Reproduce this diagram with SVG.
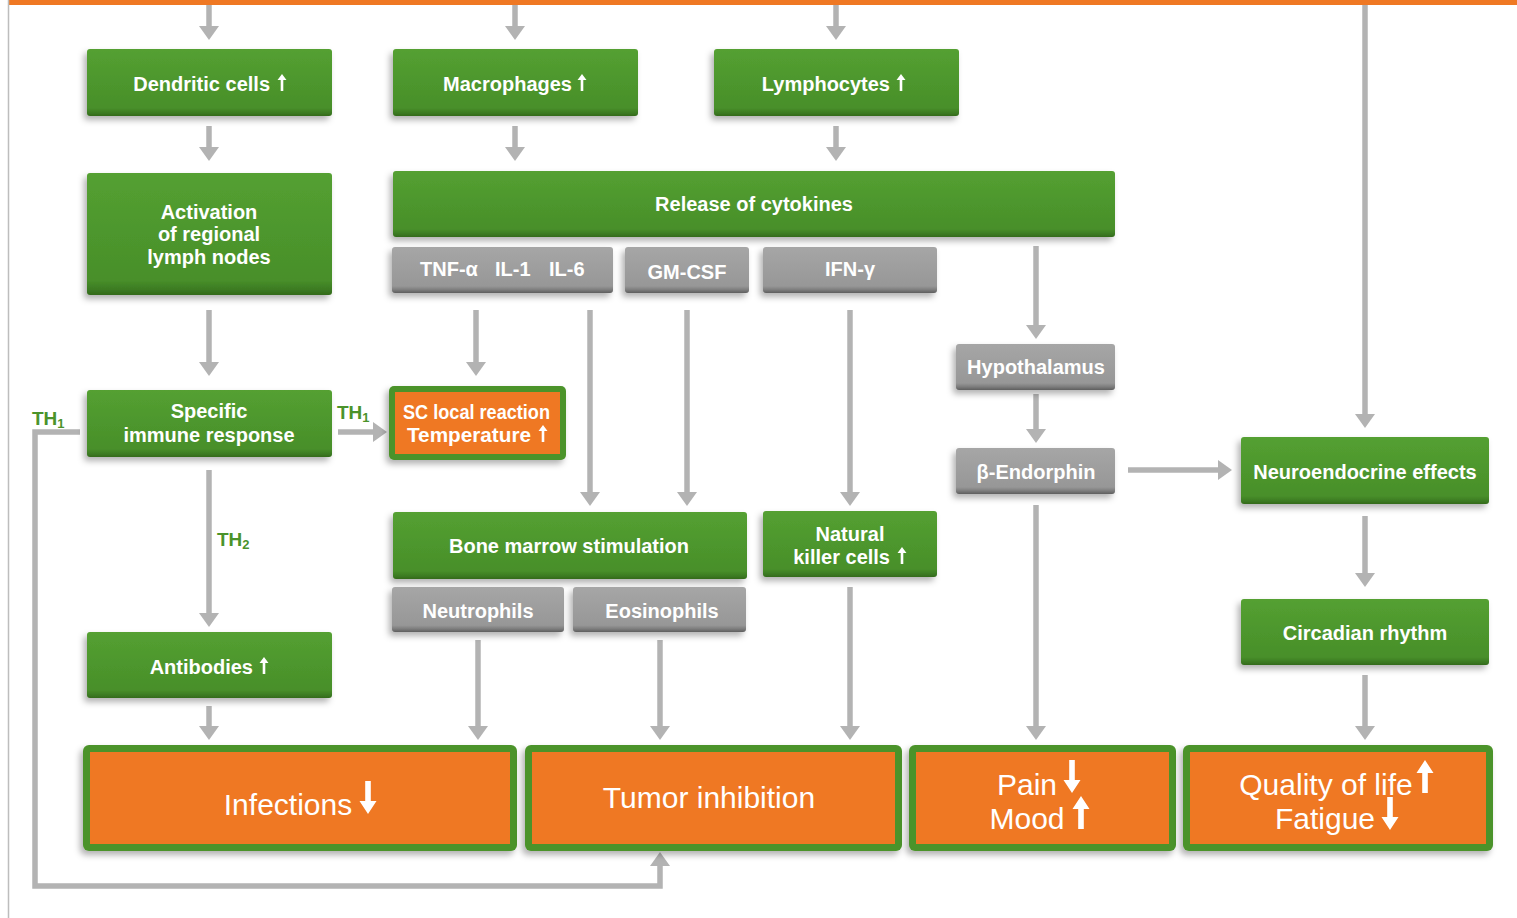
<svg xmlns="http://www.w3.org/2000/svg" xmlns:xlink="http://www.w3.org/1999/xlink" width="1517" height="918" viewBox="0 0 1517 918">
<defs>
<linearGradient id="gGreen" x1="0" y1="0" x2="0" y2="1">
<stop offset="0" stop-color="#54a031"/>
<stop offset="0.88" stop-color="#488f2a"/>
<stop offset="0.95" stop-color="#3d7c23"/>
<stop offset="1" stop-color="#336a1c"/>
</linearGradient>
<linearGradient id="gGray" x1="0" y1="0" x2="0" y2="1">
<stop offset="0" stop-color="#a6a6a6"/>
<stop offset="0.85" stop-color="#979797"/>
<stop offset="0.93" stop-color="#7d7d7d"/>
<stop offset="1" stop-color="#5e5e5e"/>
</linearGradient>
<filter id="sh" x="-10%" y="-20%" width="120%" height="150%">
<feDropShadow dx="-3" dy="4" stdDeviation="3" flood-color="#000" flood-opacity="0.3"/>
</filter>
<marker id="ah" markerUnits="userSpaceOnUse" viewBox="0 -10 14 20" refX="0" refY="0" markerWidth="14" markerHeight="20" orient="auto">
<path d="M0,-10 L14,0 L0,10 Z" fill="#b3b3b3"/>
</marker>
<path id="su" d="M0,0 L4.5,6 L1.3,6 L1.3,17 L-1.3,17 L-1.3,6 L-4.5,6 Z" fill="#fff"/>
<path id="bu" d="M0,0 L8.5,13 L2.8,13 L2.8,33 L-2.8,33 L-2.8,13 L-8.5,13 Z" fill="#fff"/>
<path id="bd" d="M0,33 L8.5,20 L2.8,20 L2.8,0 L-2.8,0 L-2.8,20 L-8.5,20 Z" fill="#fff"/>
</defs>
<style>
.g{fill:url(#gGreen);filter:url(#sh);}
.y{fill:url(#gGray);filter:url(#sh);}
.ob{fill:#4b932b;filter:url(#sh);}
.oi{fill:#ef7823;}
.t{font-family:"Liberation Sans",Arial,sans-serif;font-weight:bold;font-size:20px;fill:#fff;}
.c{text-anchor:middle;}
.e{text-anchor:end;}
.big{font-family:"Liberation Sans",Arial,sans-serif;font-size:30px;fill:#fff;text-anchor:middle;}
.th{font-family:"Liberation Sans",Arial,sans-serif;font-weight:bold;font-size:19px;fill:#4b932b;}
.cn{fill:none;stroke:#b3b3b3;stroke-width:5.5;marker-end:url(#ah);}
</style>
<rect x="0" y="0" width="1517" height="918" fill="#fff"/>
<rect x="8" y="0" width="1509" height="5" fill="#ef7823"/>
<line x1="8.5" y1="0" x2="8.5" y2="918" stroke="#bdbdbd" stroke-width="1.5"/>

<g id="connectors">
<path class="cn" d="M209,5 V26"/>
<path class="cn" d="M515,5 V26"/>
<path class="cn" d="M836,5 V26"/>
<path class="cn" d="M209,126 V147"/>
<path class="cn" d="M515,126 V147"/>
<path class="cn" d="M836,126 V147"/>
<path class="cn" d="M209,310 V362"/>
<path class="cn" d="M209,470 V613"/>
<path class="cn" d="M209,706 V726"/>
<path class="cn" d="M476,310 V362"/>
<path class="cn" d="M590,310 V492"/>
<path class="cn" d="M687,310 V492"/>
<path class="cn" d="M850,310 V492"/>
<path class="cn" d="M1036,246 V325"/>
<path class="cn" d="M1036,394 V429"/>
<path class="cn" d="M1036,505 V726"/>
<path class="cn" d="M1365,5 V414"/>
<path class="cn" d="M1365,516 V573"/>
<path class="cn" d="M1365,675 V726"/>
<path class="cn" d="M478,640 V726"/>
<path class="cn" d="M660,640 V726"/>
<path class="cn" d="M850,587 V726"/>
<path class="cn" d="M338,432 H373"/>
<path class="cn" d="M1128,470 H1218"/>
<path class="cn" d="M80,432 H35 V886 H660 V866"/>
</g>

<g id="n-dendritic">
<rect class="g" x="87" y="49" width="245" height="67" rx="3"/>
<text class="t e" x="270" y="91">Dendritic cells</text>
<use xlink:href="#su" x="282" y="74"/>
</g>
<g id="n-macrophages">
<rect class="g" x="393" y="49" width="245" height="67" rx="3"/>
<text class="t e" x="572" y="91">Macrophages</text>
<use xlink:href="#su" x="582" y="74"/>
</g>
<g id="n-lymphocytes">
<rect class="g" x="714" y="49" width="245" height="67" rx="3"/>
<text class="t e" x="890" y="91">Lymphocytes</text>
<use xlink:href="#su" x="901" y="74"/>
</g>
<g id="n-activation">
<rect class="g" x="87" y="173" width="245" height="122" rx="3"/>
<text class="t c" x="209" y="219">Activation</text>
<text class="t c" x="209" y="241">of regional</text>
<text class="t c" x="209" y="264">lymph nodes</text>
</g>
<g id="n-cytokines">
<rect class="g" x="393" y="171" width="722" height="66" rx="3"/>
<text class="t c" x="754" y="211">Release of cytokines</text>
</g>
<g id="n-tnf">
<rect class="y" x="392" y="247" width="221" height="46" rx="3"/>
<text class="t" x="420" y="276">TNF-α</text>
<text class="t" x="495" y="276">IL-1</text>
<text class="t" x="549" y="276">IL-6</text>
</g>
<g id="n-gmcsf">
<rect class="y" x="625" y="247" width="124" height="46" rx="3"/>
<text class="t c" x="687" y="279">GM-CSF</text>
</g>
<g id="n-ifn">
<rect class="y" x="763" y="247" width="174" height="46" rx="3"/>
<text class="t c" x="850" y="276">IFN-γ</text>
</g>
<g id="n-specific">
<rect class="g" x="87" y="390" width="245" height="67" rx="3"/>
<text class="t c" x="209" y="418">Specific</text>
<text class="t c" x="209" y="442">immune response</text>
</g>
<g id="n-sc">
<rect class="ob" x="389" y="386" width="177" height="74" rx="5"/>
<rect class="oi" x="395" y="392" width="165" height="62"/>
<text class="t" x="403" y="419" textLength="147" lengthAdjust="spacingAndGlyphs">SC local reaction</text>
<text class="t" x="407" y="442" textLength="124" lengthAdjust="spacingAndGlyphs">Temperature</text>
<use xlink:href="#su" x="543" y="425"/>
</g>
<g id="n-hypothalamus">
<rect class="y" x="956" y="344" width="159" height="46" rx="3"/>
<text class="t c" x="1036" y="374">Hypothalamus</text>
</g>
<g id="n-endorphin">
<rect class="y" x="956" y="448" width="159" height="46" rx="3"/>
<text class="t c" x="1036" y="479">β-Endorphin</text>
</g>
<g id="n-neuroendocrine">
<rect class="g" x="1241" y="437" width="248" height="67" rx="3"/>
<text class="t c" x="1365" y="479">Neuroendocrine effects</text>
</g>
<g id="n-bonemarrow">
<rect class="g" x="393" y="512" width="354" height="67" rx="3"/>
<text class="t c" x="569" y="553">Bone marrow stimulation</text>
</g>
<g id="n-nk">
<rect class="g" x="763" y="511" width="174" height="66" rx="3"/>
<text class="t c" x="850" y="541">Natural</text>
<text class="t e" x="890" y="564">killer cells</text>
<use xlink:href="#su" x="902" y="547"/>
</g>
<g id="n-neutrophils">
<rect class="y" x="392" y="587" width="172" height="45" rx="3"/>
<text class="t c" x="478" y="618">Neutrophils</text>
</g>
<g id="n-eosinophils">
<rect class="y" x="573" y="587" width="173" height="45" rx="3"/>
<text class="t c" x="662" y="618">Eosinophils</text>
</g>
<g id="n-circadian">
<rect class="g" x="1241" y="599" width="248" height="66" rx="3"/>
<text class="t c" x="1365" y="640">Circadian rhythm</text>
</g>
<g id="n-antibodies">
<rect class="g" x="87" y="632" width="245" height="66" rx="3"/>
<text class="t e" x="253" y="674">Antibodies</text>
<use xlink:href="#su" x="264" y="657"/>
</g>

<g id="labels">
<text class="th" x="32" y="425">TH<tspan font-size="13" dy="3">1</tspan></text>
<text class="th" x="337" y="419">TH<tspan font-size="13" dy="3">1</tspan></text>
<text class="th" x="217" y="546">TH<tspan font-size="13" dy="3">2</tspan></text>
</g>

<g id="n-infections">
<rect class="ob" x="83" y="745" width="434" height="106" rx="6"/>
<rect class="oi" x="90" y="752" width="420" height="92"/>
<text class="big" x="288" y="815">Infections</text>
<use xlink:href="#bd" x="368" y="781"/>
</g>
<g id="n-tumor">
<rect class="ob" x="525" y="745" width="377" height="106" rx="6"/>
<rect class="oi" x="532" y="752" width="363" height="92"/>
<text class="big" x="709" y="808">Tumor inhibition</text>
</g>
<g id="n-pain">
<rect class="ob" x="909" y="745" width="267" height="106" rx="6"/>
<rect class="oi" x="916" y="752" width="253" height="92"/>
<text class="big" x="1027" y="795" font-size="29">Pain</text>
<text class="big" x="1027" y="829" font-size="29">Mood</text>
<use xlink:href="#bd" x="1072" y="760"/>
<use xlink:href="#bu" x="1081" y="796"/>
</g>
<g id="n-quality">
<rect class="ob" x="1183" y="745" width="310" height="106" rx="6"/>
<rect class="oi" x="1190" y="752" width="296" height="92"/>
<text class="big" x="1326" y="795" font-size="28">Quality of life</text>
<text class="big" x="1325" y="829" font-size="28">Fatigue</text>
<use xlink:href="#bu" x="1425" y="760"/>
<use xlink:href="#bd" x="1390" y="797"/>
</g>
</svg>
